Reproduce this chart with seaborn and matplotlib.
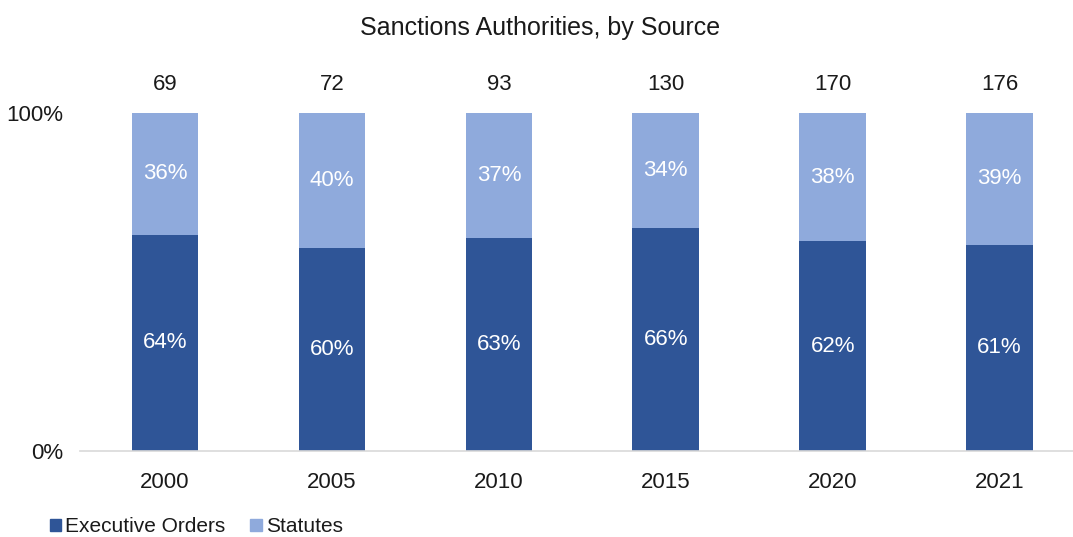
import matplotlib
matplotlib.use("Agg")
import matplotlib.pyplot as plt
from matplotlib.patches import Patch
import seaborn as sns
import pandas as pd

years = ["2000", "2005", "2010", "2015", "2020", "2021"]
totals = [69, 72, 93, 130, 170, 176]
exec_orders = [64, 60, 63, 66, 62, 61]
statutes = [36, 40, 37, 34, 38, 39]

DARK = "#2F5597"
LIGHT = "#8FAADC"

sns.set_theme(style="white")
plt.rcParams["font.family"] = ["Liberation Sans", "DejaVu Sans"]

df = pd.DataFrame({"year": years, "eo": exec_orders, "st": statutes, "total": totals})
df["eo_frac"] = df["eo"] / 100
df["full"] = (df["eo"] + df["st"]) / 100

fig = plt.figure(figsize=(10.73, 5.37), dpi=100)
ax = fig.add_axes([80 / 1073, 1 - 451 / 537, (1073 - 80) / 1073, (451 - 113) / 537])

sns.barplot(data=df, x="year", y="full", color=LIGHT, width=0.40, ax=ax, saturation=1, linewidth=0)
sns.barplot(data=df, x="year", y="eo_frac", color=DARK, width=0.40, ax=ax, saturation=1, linewidth=0)

ax.set_xlim(-0.51, 5.44)
ax.set_ylim(0, 1)
ax.set_yticks([0, 1])
ax.set_yticklabels(["0%", "100%"])
ax.set_xlabel("")
ax.set_ylabel("")
ax.tick_params(axis="both", labelsize=16, length=0, colors="#1a1a1a")
ax.tick_params(axis="x", pad=15)
ax.tick_params(axis="y", pad=12)
for s in ["top", "right", "left"]:
    ax.spines[s].set_visible(False)
ax.spines["bottom"].set_color("#D9D9D9")
ax.spines["bottom"].set_linewidth(1.2)

for i, row in df.iterrows():
    e = row["eo_frac"]
    full = row["full"]
    ax.text(i, e / 2, f"{row['eo']}%", ha="center", va="center", color="white", fontsize=16)
    ax.text(i, e + (full - e) / 2, f"{row['st']}%", ha="center", va="center", color="white", fontsize=16)
    ax.annotate(str(row["total"]), (i, 1), xytext=(0, 13), textcoords="offset points",
                ha="center", va="bottom", fontsize=16, color="#1a1a1a", annotation_clip=False)

fig.text(540 / 1073, 1 - 28 / 537, "Sanctions Authorities, by Source", ha="center", va="center",
         fontsize=18, color="#1a1a1a")

handles = [Patch(color=DARK, label="Executive Orders"), Patch(color=LIGHT, label="Statutes")]
fig.legend(handles=handles, loc="center left", bbox_to_anchor=(35 / 1073, 1 - 527 / 537), ncol=2,
           frameon=False, fontsize=15, handlelength=0.55, handleheight=0.55, handletextpad=0.2,
           columnspacing=1.2, labelcolor="#1a1a1a", borderpad=0.2)

fig.savefig("out.png", dpi=100)
